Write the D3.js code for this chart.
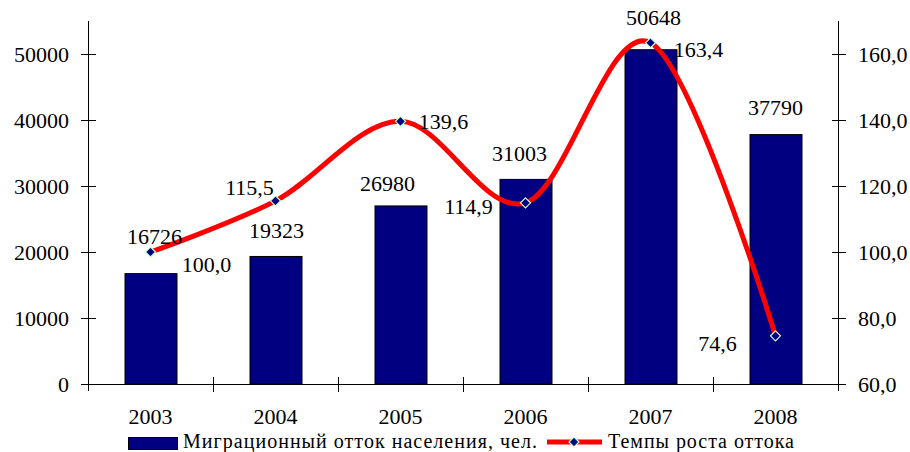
<!DOCTYPE html>
<html lang="ru">
<head>
    <meta charset="UTF-8">
    <title>Миграционный отток населения</title>
    <script src="https://d3js.org/d3.v7.min.js"></script>
    <style>
        body {
            margin: 0;
            background: #ffffff;
            font-family: "Liberation Serif", "Times New Roman", serif;
        }
        svg text {
            font-family: "Liberation Serif", serif;
            font-size: 22px;
            fill: #000000;
        }
    </style>
</head>
<body>
    <div id="chart"></div>

    <script>
// data
const years = ["2003", "2004", "2005", "2006", "2007", "2008"];
const outflow = [16726, 19323, 26980, 31003, 50648, 37790];
const growthRate = [100.0, 115.5, 139.6, 114.9, 163.4, 74.6];
const leftTicks = [0, 10000, 20000, 30000, 40000, 50000];
const rightTicks = [60, 80, 100, 120, 140, 160];
const seriesNames = ["Миграционный отток населения, чел.", "Темпы роста оттока"];

// label nudges (layout only), relative to marker / bar top
const rateLabelShift = [[56, 12], [-26, -14], [43, 0], [-57, 3], [48, 7], [-58, 7]];
const barLabelShift = [[4, -37], [1, -26], [-13, -23], [-6, -26], [3, -32], [0, -27]];

const width = 910;
const height = 452;
const plot = {left: 88, right: 838, top: 21, bottom: 384};

const svg = d3.select("#chart").append("svg")
    .attr("width", width)
    .attr("height", height);

const x = d3.scaleBand()
    .domain(years)
    .range([plot.left, plot.right]);

const yLeft = d3.scaleLinear()
    .domain([0, 55000])
    .range([plot.bottom, plot.top]);

const yRight = d3.scaleLinear()
    .domain([60, 170])
    .range([plot.bottom, plot.top]);

const barW = x.bandwidth() * 0.416;
const cx = d => x(d) + x.bandwidth() / 2;
const fmt = v => d3.format(".1f")(v).replace(".", ",");

// bars
svg.append("g")
    .selectAll("rect")
    .data(outflow)
    .enter().append("rect")
    .attr("x", (d, i) => cx(years[i]) - barW / 2 + 0.5)
    .attr("y", d => yLeft(d))
    .attr("width", barW)
    .attr("height", d => yLeft(0) - yLeft(d))
    .attr("fill", "#000080")
    .attr("stroke", "#000000")
    .attr("stroke-width", 1);

// axes
const axes = svg.append("g")
    .attr("stroke", "#000000")
    .attr("stroke-width", 1)
    .attr("shape-rendering", "crispEdges");

axes.append("line")
    .attr("x1", plot.left).attr("x2", plot.left)
    .attr("y1", plot.top).attr("y2", plot.bottom + 7);
axes.append("line")
    .attr("x1", plot.right).attr("x2", plot.right)
    .attr("y1", plot.top).attr("y2", plot.bottom + 7);
axes.append("line")
    .attr("x1", plot.left - 7).attr("x2", plot.right + 7)
    .attr("y1", plot.bottom).attr("y2", plot.bottom);

axes.selectAll(".lt")
    .data(leftTicks)
    .enter().append("line")
    .attr("x1", plot.left - 7).attr("x2", plot.left + 8)
    .attr("y1", d => yLeft(d)).attr("y2", d => yLeft(d));

axes.selectAll(".rt")
    .data(rightTicks)
    .enter().append("line")
    .attr("x1", plot.right - 6).attr("x2", plot.right + 8)
    .attr("y1", d => yRight(d)).attr("y2", d => yRight(d));

axes.selectAll(".xt")
    .data(years.slice(1))
    .enter().append("line")
    .attr("x1", d => x(d)).attr("x2", d => x(d))
    .attr("y1", plot.bottom - 7).attr("y2", plot.bottom + 8);

svg.selectAll(".ltl")
    .data(leftTicks)
    .enter().append("text")
    .attr("x", 69)
    .attr("y", d => yLeft(d))
    .attr("dy", "0.35em")
    .attr("text-anchor", "end")
    .text(d => d);

svg.selectAll(".rtl")
    .data(rightTicks)
    .enter().append("text")
    .attr("x", 858)
    .attr("y", d => yRight(d))
    .attr("dy", "0.35em")
    .text(d => fmt(d));

svg.selectAll(".xtl")
    .data(years)
    .enter().append("text")
    .attr("x", d => cx(d))
    .attr("y", 424)
    .attr("text-anchor", "middle")
    .text(d => d);

// growth-rate line, smoothed like Excel
const line = d3.line()
    .x((d, i) => cx(years[i]))
    .y(d => yRight(d))
    .curve(d3.curveCardinal.tension(0));

svg.append("path")
    .datum(growthRate)
    .attr("d", line)
    .attr("fill", "none")
    .attr("stroke", "#ff0000")
    .attr("stroke-width", 5)
    .attr("stroke-linejoin", "round");

const diamond = "M0,-5L5,0L0,5L-5,0Z";

svg.selectAll(".marker")
    .data(growthRate)
    .enter().append("path")
    .attr("d", diamond)
    .attr("transform", (d, i) => `translate(${cx(years[i])},${yRight(d)})`)
    .attr("fill", "#000080")
    .attr("stroke", "#ccffcc")
    .attr("stroke-width", 1.2);

// data labels
svg.selectAll(".barlabel")
    .data(outflow)
    .enter().append("text")
    .attr("x", (d, i) => cx(years[i]) + barLabelShift[i][0])
    .attr("y", (d, i) => yLeft(d) + barLabelShift[i][1])
    .attr("dy", "0.35em")
    .attr("text-anchor", "middle")
    .text(d => d);

svg.selectAll(".ratelabel")
    .data(growthRate)
    .enter().append("text")
    .attr("x", (d, i) => cx(years[i]) + rateLabelShift[i][0])
    .attr("y", (d, i) => yRight(d) + rateLabelShift[i][1])
    .attr("dy", "0.35em")
    .attr("text-anchor", "middle")
    .text(d => fmt(d));

// legend
const legend = svg.append("g");

legend.append("rect")
    .attr("x", 128.5).attr("y", 437.5)
    .attr("width", 49).attr("height", 12)
    .attr("fill", "#000080")
    .attr("stroke", "#000000");

legend.append("text")
    .attr("x", 183).attr("y", 448)
    .attr("textLength", 354)
    .style("font-size", "20px")
    .text(seriesNames[0]);

legend.append("line")
    .attr("x1", 547).attr("x2", 602)
    .attr("y1", 442).attr("y2", 442)
    .attr("stroke", "#ff0000")
    .attr("stroke-width", 5);

legend.append("path")
    .attr("d", diamond)
    .attr("transform", "translate(574,442)")
    .attr("fill", "#000080")
    .attr("stroke", "#ccffcc")
    .attr("stroke-width", 1.2);

legend.append("text")
    .attr("x", 608).attr("y", 448)
    .attr("textLength", 186)
    .style("font-size", "20px")
    .text(seriesNames[1]);
    </script>
</body>
</html>
